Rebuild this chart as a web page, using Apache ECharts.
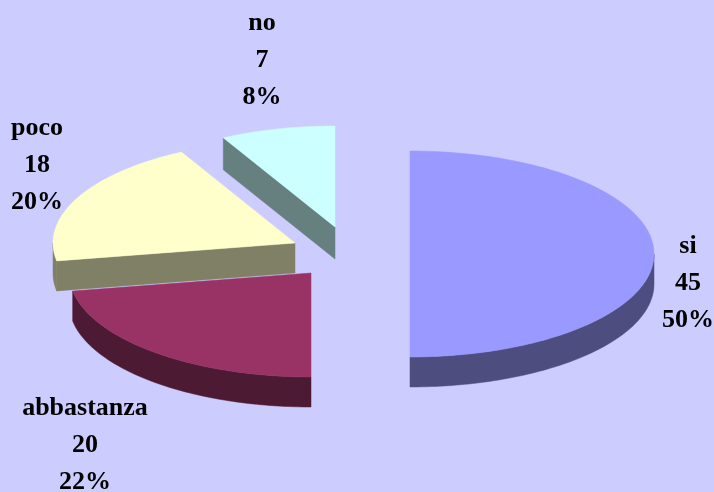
<!DOCTYPE html>
<html>
<head>
<meta charset="utf-8">
<style>html,body{margin:0;padding:0;background:#ccccff}#c{width:714px;height:492px}</style>
<script src="https://cdn.jsdelivr.net/npm/echarts@6/dist/echarts.min.js"></script>
</head>
<body>
<div id="c"></div>
<script>
var categories = ['si', 'abbastanza', 'poco', 'no'];
var values = [45, 20, 18, 7];

var topColors = ['#9999ff', '#993366', '#ffffcc', '#ccffff'];
var sideColors = ['#4d4d80', '#4d1a33', '#808066', '#668080'];
// exploded slice centres and ellipse radii
var layout = [
  {cx: 410, cy: 254, rx: 244, ry: 103, depth: 30, lx: 688, ly: 283},
  {cx: 311, cy: 273, rx: 242, ry: 104, depth: 30, lx: 85, ly: 445},
  {cx: 295, cy: 243, rx: 242, ry: 103, depth: 30, lx: 37, ly: 165},
  {cx: 335, cy: 227, rx: 238, ry: 101, depth: 32, lx: 262, ly: 60}
];

var total = values.reduce(function (a, b) { return a + b; }, 0);

function pt(l, deg, dy) {
  var a = deg * Math.PI / 180;
  return [l.cx + l.rx * Math.sin(a), l.cy - l.ry * Math.cos(a) + (dy || 0)];
}
function arc(l, from, to, dy) {
  var out = [], n = Math.max(2, Math.ceil(Math.abs(to - from)));
  for (var i = 0; i <= n; i++) out.push(pt(l, from + (to - from) * i / n, dy));
  return out;
}
function poly(points, fill) {
  return {type: 'polygon', shape: {points: points}, style: {fill: fill, stroke: fill, lineWidth: 0.5}};
}

function renderItem(params, api) {
  var i = params.dataIndex, l = layout[i], v = api.value(0);
  var before = 0;
  for (var k = 0; k < i; k++) before += values[k];
  var start = before / total * 360, end = (before + v) / total * 360;
  var side = sideColors[i], kids = [];

  // outer wall: only the front half of the rim (90 to 270 degrees) faces the viewer
  var wFrom = Math.max(start, 90), wTo = Math.min(end, 270);
  if (wTo > wFrom) {
    kids.push(poly(arc(l, wFrom, wTo, 0).concat(arc(l, wTo, wFrom, l.depth)), side));
  }
  // radial cut faces
  var apex = [l.cx, l.cy], apexLow = [l.cx, l.cy + l.depth];
  if (Math.sin(start * Math.PI / 180) < -1e-6) {
    kids.push(poly([apex, pt(l, start, 0), pt(l, start, l.depth), apexLow], side));
  }
  if (Math.sin(end * Math.PI / 180) > 1e-6) {
    kids.push(poly([apex, pt(l, end, 0), pt(l, end, l.depth), apexLow], side));
  }
  // top face
  kids.push(poly([apex].concat(arc(l, start, end, 0)), topColors[i]));
  // label
  kids.push({
    type: 'text',
    style: {
      text: categories[i] + '\n' + v + '\n' + Math.round(v / total * 100) + '%',
      x: l.lx, y: l.ly,
      align: 'center', verticalAlign: 'middle',
      font: 'bold 26px "Liberation Serif"',
      lineHeight: 37,
      fill: '#000000'
    }
  });
  return {type: 'group', children: kids};
}

var chart = echarts.init(document.getElementById('c'), null, {renderer: 'canvas'});
chart.setOption({
  backgroundColor: '#ccccff',
  animation: false,
  series: [{
    type: 'custom',
    coordinateSystem: 'none',
    renderItem: renderItem,
    data: values.map(function (v, i) { return {name: categories[i], value: [v]}; })
  }]
});
</script>
</body>
</html>
